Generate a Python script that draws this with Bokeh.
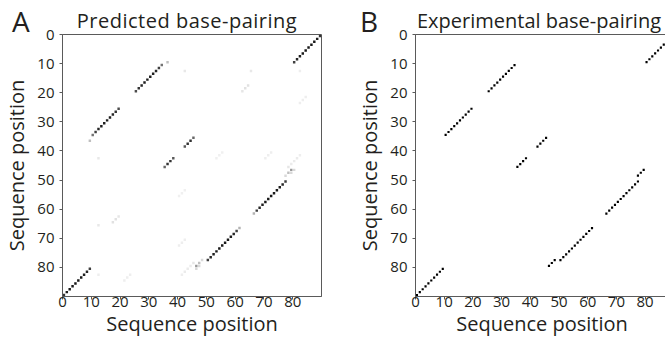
from bokeh.plotting import figure
from bokeh.layouts import row, column
from bokeh.models import ColumnDataSource, Range1d, Div
from bokeh.transform import linear_cmap
from bokeh.palettes import Greys256
from bokeh.embed import file_html
from bokeh.resources import INLINE

# ---------------- data ----------------
seq_len = 90
tick_values = [0, 10, 20, 30, 40, 50, 60, 70, 80]
panel_letters = ["A", "B"]
panel_titles = ["Predicted base-pairing", "Experimental base-pairing"]
axis_title = "Sequence position"

# Experimental base pairs (i < j)
exp_i = [0, 1, 2, 3, 4, 5, 6, 7, 8, 9,
         10, 11, 12, 13, 14, 15, 16, 17, 18, 19,
         35, 36, 37, 38,
         46, 47, 48,
         50, 51, 52, 53, 54, 55, 56, 57, 58, 59, 60, 61]
exp_j = [89, 88, 87, 86, 85, 84, 83, 82, 81, 80,
         34, 33, 32, 31, 30, 29, 28, 27, 26, 25,
         45, 44, 43, 42,
         79, 78, 77,
         77, 76, 75, 74, 73, 72, 71, 70, 69, 68, 67, 66]

# Predicted base-pairing probabilities (i < j)
pred_i = [0, 1, 2, 3, 4, 5, 6, 7, 8, 9,
          9, 10, 11, 12, 13, 14, 15, 16, 17, 18, 19,
          35, 36, 37, 38,
          46, 47, 46, 47, 48,
          50, 51, 52, 53, 54, 55, 56, 57, 58, 59, 60, 61,
          41, 42, 43, 44, 45,
          17, 18, 19,
          12, 12, 12,
          40, 41, 42,
          40, 41, 42,
          21, 22, 23]
pred_j = [89, 88, 87, 86, 85, 84, 83, 82, 81, 80,
          36, 34, 33, 32, 31, 30, 29, 28, 27, 26, 25,
          45, 44, 43, 42,
          79, 78, 80, 79, 77,
          77, 76, 75, 74, 73, 72, 71, 70, 69, 68, 67, 66,
          82, 81, 80, 79, 78,
          64, 63, 62,
          42, 65, 82,
          72, 71, 70,
          55, 54, 53,
          84, 83, 82]
pred_p = [0.80, 0.88, 0.90, 0.90, 0.90, 0.90, 0.90, 0.88, 0.85, 0.75,
          0.25, 0.55, 0.75, 0.85, 0.88, 0.88, 0.88, 0.88, 0.85, 0.80, 0.70,
          0.60, 0.80, 0.80, 0.65,
          0.40, 0.25, 0.15, 0.15, 0.15,
          0.75, 0.85, 0.88, 0.90, 0.90, 0.90, 0.90, 0.90, 0.88, 0.85, 0.75, 0.30,
          0.07, 0.08, 0.08, 0.08, 0.10,
          0.12, 0.12, 0.10,
          0.09, 0.09, 0.07,
          0.07, 0.07, 0.07,
          0.06, 0.06, 0.06,
          0.07, 0.07, 0.07]

# ---------------- styling ----------------
FONT = "Open Sans"
TXT = "#231f20"
AXC = "#5a5a5a"


def cells(ii, jj, vals=None):
    xs, ys, vs = [], [], []
    for k, (a, b) in enumerate(zip(ii, jj)):
        v = vals[k] if vals is not None else 1.0
        xs += [b + 0.5, a + 0.5]
        ys += [a + 0.5, b + 0.5]
        vs += [v, v]
    return ColumnDataSource(dict(x=xs, y=ys, v=vs))


def style(p):
    p.xgrid.visible = False
    p.ygrid.visible = False
    p.border_fill_color = None
    for ax in (p.xaxis[0], p.yaxis[0]):
        ax.ticker = tick_values
        ax.minor_tick_line_color = None
        ax.major_tick_in = 0
        ax.major_tick_out = 3
        ax.axis_line_color = AXC
        ax.major_tick_line_color = AXC
        ax.major_label_text_font = FONT
        ax.major_label_text_font_size = "15px"
        ax.major_label_text_color = TXT
        ax.axis_label = axis_title
        ax.axis_label_text_font = FONT
        ax.axis_label_text_font_size = "20px"
        ax.axis_label_text_font_style = "normal"
        ax.axis_label_text_color = TXT
    p.xaxis[0].axis_label_standoff = 0
    p.yaxis[0].axis_label_standoff = 4
    p.xaxis[0].major_label_standoff = -3
    p.yaxis[0].major_label_standoff = 5
    p.outline_line_color = AXC


# Header with panel letters and titles (overlaid on the figures' top border)
def span(text, left, top, size, lh, center=False, spacing=0.0):
    shift = "transform:translateX(-50%);" if center else ""
    return (f'<span style="position:absolute;left:{left}px;top:{top}px;'
            f'font-size:{size}px;line-height:{lh}px;white-space:nowrap;'
            f'letter-spacing:{spacing}px;{shift}">'
            f'{text}</span>')


header_html = (
    f'<div style="position:relative;width:665px;height:33px;'
    f"font-family:'{FONT}';color:{TXT};\">"
    + span(panel_letters[0], 12, 9.8, 28, 22)
    + span(panel_titles[0], 187, 10.5, 20, 20, center=True, spacing=0.5)
    + span(panel_letters[1], 360, 9.8, 28, 22)
    + span(panel_titles[1], 539, 10.5, 20, 20, center=True)
    + "</div>"
)
header = Div(text=header_html, width=665, height=33, margin=(0, 0, 0, 0))

# Panel A
pA = figure(frame_width=259, frame_height=262,
            x_range=Range1d(0, seq_len), y_range=Range1d(seq_len, 0),
            min_border_left=59, min_border_right=15,
            min_border_top=25, min_border_bottom=41,
            output_backend="svg", toolbar_location=None)
style(pA)
srcA = cells(pred_i, pred_j, pred_p)
pA.rect("x", "y", width=0.85, height=0.85, source=srcA, line_color=None,
        fill_color=linear_cmap("v", list(reversed(Greys256)), 0, 1))

# Panel B
pB = figure(frame_width=253, frame_height=262,
            x_range=Range1d(0, 88.15), y_range=Range1d(seq_len, 0),
            min_border_left=79, min_border_right=0,
            min_border_top=25, min_border_bottom=41,
            output_backend="svg", toolbar_location=None)
style(pB)
srcB = cells(exp_i, exp_j)
pB.rect("x", "y", width=0.75, height=0.75, source=srcB, line_color=None,
        fill_color="black")

layout = column(header, row(pA, pB, margin=(-24, 0, 0, 0)))
open("out.html", "w").write(file_html(layout, INLINE))
